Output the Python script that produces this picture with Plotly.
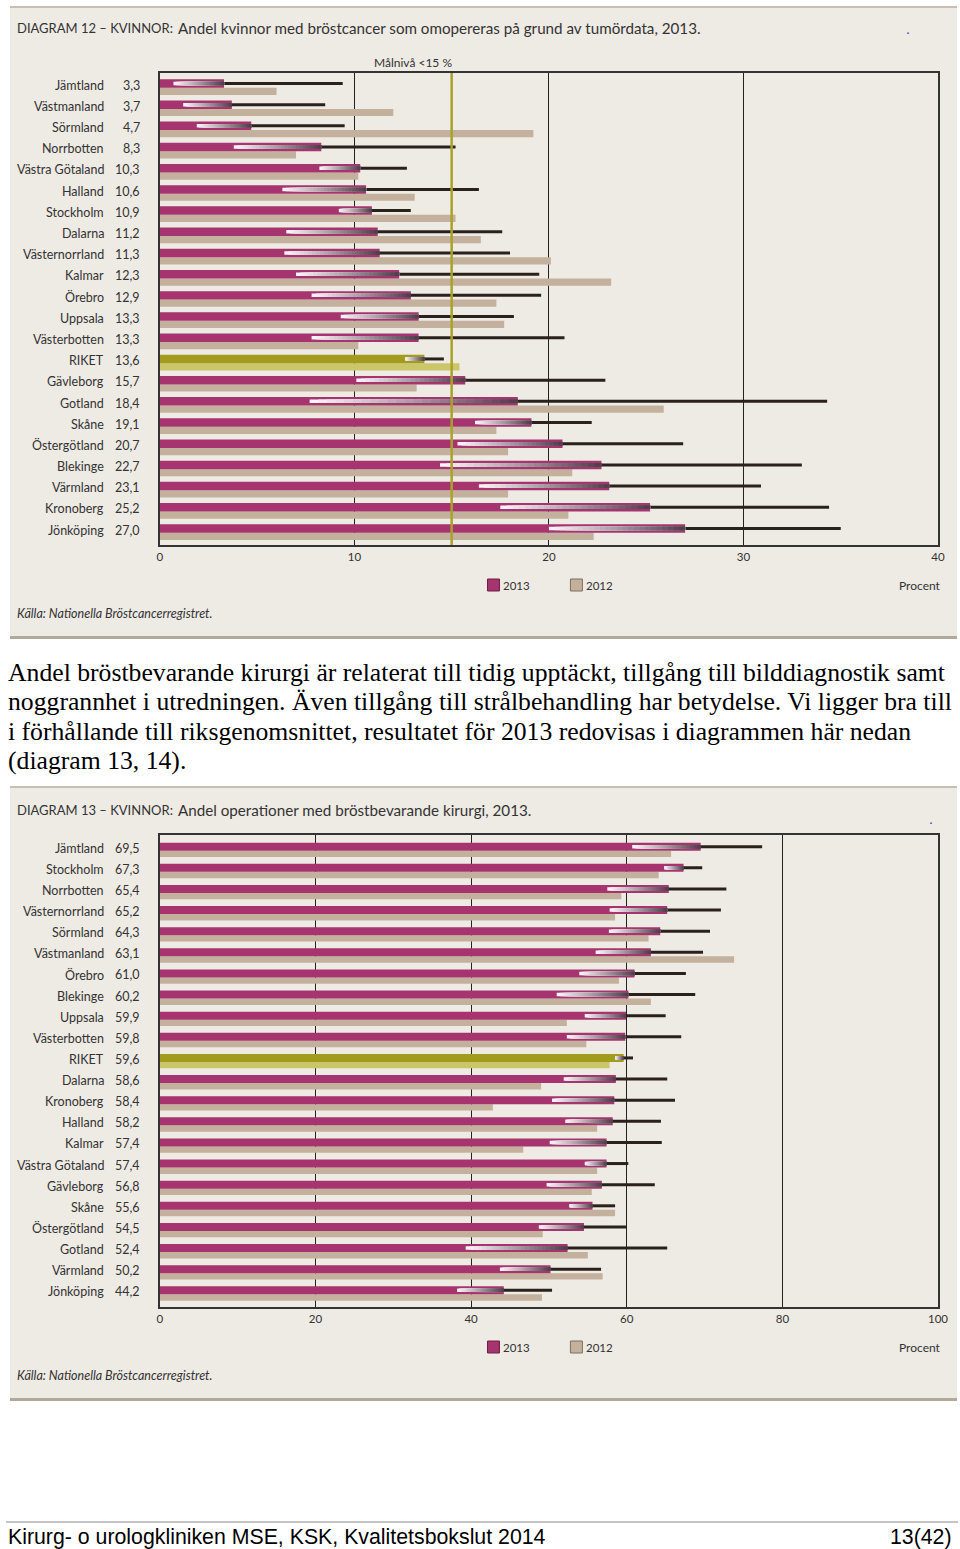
import plotly.graph_objects as go

W, H = 960, 1549
FIG_W = 972  # page is photographed slightly compressed horizontally; positions are paper fractions

# ---------------- Data: Diagram 12 ----------------
regions12 = ["Jämtland", "Västmanland", "Sörmland", "Norrbotten", "Västra Götaland", "Halland",
             "Stockholm", "Dalarna", "Västernorrland", "Kalmar", "Örebro", "Uppsala",
             "Västerbotten", "RIKET", "Gävleborg", "Gotland", "Skåne", "Östergötland",
             "Blekinge", "Värmland", "Kronoberg", "Jönköping"]
v2013_12 = [3.3, 3.7, 4.7, 8.3, 10.3, 10.6, 10.9, 11.2, 11.3, 12.3, 12.9, 13.3, 13.3, 13.6,
            15.7, 18.4, 19.1, 20.7, 22.7, 23.1, 25.2, 27.0]
v2012_12 = [6.0, 12.0, 19.2, 7.0, 10.2, 13.1, 15.2, 16.5, 20.1, 23.2, 17.3, 17.7, 10.2, 15.4,
            13.2, 25.9, 17.3, 17.9, 21.2, 17.9, 21.0, 22.3]
lo_12 = [0.7, 1.2, 1.9, 3.8, 8.2, 6.3, 9.2, 6.5, 6.4, 7.0, 7.8, 9.3, 7.8, 12.6,
         10.1, 7.7, 16.2, 15.3, 14.4, 16.4, 17.5, 20.0]
hi_12 = [9.4, 8.5, 9.5, 15.2, 12.7, 16.4, 12.9, 17.6, 18.0, 19.5, 19.6, 18.2, 20.8, 14.6,
         22.9, 34.3, 22.2, 26.9, 33.0, 30.9, 34.4, 35.0]
ticks12 = [0, 10, 20, 30, 40]
target12 = 15

# ---------------- Data: Diagram 13 ----------------
regions13 = ["Jämtland", "Stockholm", "Norrbotten", "Västernorrland", "Sörmland", "Västmanland",
             "Örebro", "Blekinge", "Uppsala", "Västerbotten", "RIKET", "Dalarna", "Kronoberg",
             "Halland", "Kalmar", "Västra Götaland", "Gävleborg", "Skåne", "Östergötland",
             "Gotland", "Värmland", "Jönköping"]
v2013_13 = [69.5, 67.3, 65.4, 65.2, 64.3, 63.1, 61.0, 60.2, 59.9, 59.8, 59.6, 58.6, 58.4,
            58.2, 57.4, 57.4, 56.8, 55.6, 54.5, 52.4, 50.2, 44.2]
v2012_13 = [65.7, 64.1, 59.3, 58.5, 62.8, 73.8, 59.0, 63.1, 52.3, 54.8, 57.8, 49.0, 42.8,
            56.2, 46.7, 56.2, 55.5, 58.5, 49.2, 55.0, 56.9, 49.1]
lo_13 = [60.7, 64.8, 57.5, 57.8, 57.7, 56.0, 53.9, 51.0, 54.6, 52.3, 58.5, 51.9, 50.4,
         52.1, 50.1, 54.6, 49.7, 52.6, 48.7, 39.3, 43.7, 38.2]
hi_13 = [77.4, 69.7, 72.8, 72.1, 70.7, 69.8, 67.6, 68.8, 65.0, 67.0, 60.8, 65.2, 66.2,
         64.4, 64.5, 60.2, 63.6, 58.5, 59.9, 65.2, 56.7, 50.4]
ticks13 = [0, 20, 40, 60, 80, 100]

# ---------------- Styles ----------------
MAG = "#a6346e"
TAN = "#c3b19d"
RIK13 = "#a29c1c"
RIK12 = "#cbc66a"
DARK = "#2a211c"
GRAD0 = (252, 244, 249)
GRAD1 = (84, 62, 76)
PANEL = "#eeeae4"
TXT = "#333333"
FONT = "Lato"


def px(x):
    return x / W


def py(y):
    return 1 - y / H


def mix(a, b, t):
    return "rgb(%d,%d,%d)" % tuple(round(a[i] + (b[i] - a[i]) * t) for i in range(3))


def fmt(v):
    return ("%.1f" % v).replace(".", ",")


fig = go.Figure()
annotations = []
shapes = []


def add_chart(regions, v13, v12, lo, hi, xa, ya, h13, h12):
    rows = list(range(len(regions)))
    y13 = [r - h13 / 2 for r in rows]
    y12 = [r + h12 / 2 for r in rows]
    c13 = [RIK13 if g == "RIKET" else MAG for g in regions]
    c12 = [RIK12 if g == "RIKET" else TAN for g in regions]
    fig.add_trace(go.Bar(x=v12, y=y12, width=h12, orientation="h", xaxis=xa, yaxis=ya,
                         marker=dict(color=c12, line_width=0), showlegend=False, hoverinfo="skip"))
    fig.add_trace(go.Bar(x=v13, y=y13, width=h13, orientation="h", xaxis=xa, yaxis=ya,
                         marker=dict(color=c13, line_width=0), showlegend=False, hoverinfo="skip"))
    # dark part (value -> upper bound)
    xs, ys = [], []
    for v, h, y in zip(v13, hi, y13):
        xs += [v, h, None]
        ys += [y, y, None]
    fig.add_trace(go.Scatter(x=xs, y=ys, mode="lines", xaxis=xa, yaxis=ya,
                             line=dict(color=DARK, width=3), showlegend=False, hoverinfo="skip"))
    # gradient part of the confidence interval (lower bound -> value), layered strips
    N = 24
    for k in range(N):
        xs, ys = [], []
        for l, v, y in zip(lo, v13, y13):
            a = l + (v - l) * k / N
            xs += [a, v, None]
            ys += [y, y, None]
        fig.add_trace(go.Scatter(x=xs, y=ys, mode="lines", xaxis=xa, yaxis=ya,
                                 line=dict(color=mix(GRAD0, GRAD1, k / (N - 1)), width=3.5),
                                 showlegend=False, hoverinfo="skip"))
    # row labels
    for r, g, v in zip(rows, regions, v13):
        annotations.append(dict(xref="paper", yref=ya, x=px(103), y=r - 0.12, text=g,
                                xanchor="right", yanchor="middle", showarrow=False,
                                font=dict(family=FONT, size=12.5, color=TXT)))
        annotations.append(dict(xref="paper", yref=ya, x=px(139), y=r - 0.12, text=fmt(v),
                                xanchor="right", yanchor="middle", showarrow=False,
                                font=dict(family=FONT, size=12.5, color=TXT)))


def panel(top, bottom, title_a, title_b, title_y, leg_y, src_y):
    shapes.append(dict(type="rect", xref="paper", yref="paper", x0=px(7), x1=px(955),
                       y0=py(bottom), y1=py(top), fillcolor=PANEL, line_width=0, layer="below"))
    shapes.append(dict(type="line", xref="paper", yref="paper", x0=px(7), x1=px(955),
                       y0=py(top), y1=py(top), line=dict(color="#c6bdb3", width=2)))
    shapes.append(dict(type="line", xref="paper", yref="paper", x0=px(7), x1=px(955),
                       y0=py(bottom - 1.5), y1=py(bottom - 1.5), line=dict(color="#b3a89c", width=3)))
    annotations.append(dict(xref="paper", yref="paper", x=px(12), y=py(title_y), text=title_a,
                            xanchor="left", yanchor="middle", showarrow=False,
                            font=dict(family=FONT, size=13, color=TXT)))
    annotations.append(dict(xref="paper", yref="paper", x=px(173), y=py(title_y), text=title_b,
                            xanchor="left", yanchor="middle", showarrow=False,
                            font=dict(family=FONT, size=15.2, color=TXT)))
    # legend
    for x0, col, edge, lab in [(485, MAG, "#6e1f47", "2013"), (568, TAN, "#7d6f60", "2012")]:
        shapes.append(dict(type="rect", xref="paper", yref="paper", x0=px(x0), x1=px(x0 + 12),
                           y0=py(leg_y + 6), y1=py(leg_y - 6), fillcolor=col,
                           line=dict(color=edge, width=1)))
        annotations.append(dict(xref="paper", yref="paper", x=px(x0 + 14), y=py(leg_y), text=lab,
                                xanchor="left", yanchor="middle", showarrow=False,
                                font=dict(family=FONT, size=11.5, color=TXT)))
    annotations.append(dict(xref="paper", yref="paper", x=px(941), y=py(leg_y), text="Procent",
                            xanchor="right", yanchor="middle", showarrow=False,
                            font=dict(family=FONT, size=12, color=TXT)))
    annotations.append(dict(xref="paper", yref="paper", x=px(12), y=py(src_y),
                            text="<i>Källa: Nationella Bröstcancerregistret.</i>",
                            xanchor="left", yanchor="middle", showarrow=False,
                            font=dict(family=FONT, size=12.5, color=TXT)))


add_chart(regions12, v2013_12, v2012_12, lo_12, hi_12, "x", "y", 0.40, 0.34)
add_chart(regions13, v2013_13, v2012_13, lo_13, hi_13, "x2", "y2", 0.38, 0.30)

panel(7, 639, "DIAGRAM 12 – KVINNOR:",
      "Andel kvinnor med bröstcancer som omopereras på grund av tumördata, 2013.", 28, 585, 613)
panel(787, 1401, "DIAGRAM 13 – KVINNOR:",
      "Andel operationer med bröstbevarande kirurgi, 2013.", 810, 1347, 1375)

# target line (Målnivå < 15 %)
shapes.append(dict(type="line", xref="x", yref="y domain", x0=target12, x1=target12, y0=0, y1=1,
                   line=dict(color="#a9a22a", width=2.5), layer="above"))
annotations.append(dict(xref="paper", yref="paper", x=px(451), y=py(62), text="Målnivå &lt;15 %",
                        xanchor="right", yanchor="middle", showarrow=False,
                        font=dict(family=FONT, size=12, color=TXT)))

# small blue marks
for bx, by in [(906, 33), (929, 823)]:
    annotations.append(dict(xref="paper", yref="paper", x=px(bx), y=py(by - 4), text=".",
                            xanchor="center", yanchor="middle", showarrow=False,
                            font=dict(family="Liberation Sans", size=14, color="#1f3fd0")))

# body text
body = ["Andel bröstbevarande kirurgi är relaterat till tidig upptäckt, tillgång till bilddiagnostik samt",
        "noggrannhet i utredningen. Även tillgång till strålbehandling har betydelse. Vi ligger bra till",
        "i förhållande till riksgenomsnittet, resultatet för 2013 redovisas i diagrammen här nedan",
        "(diagram 13, 14)."]
for i, line in enumerate(body):
    annotations.append(dict(xref="paper", yref="paper", x=px(3), y=py(672 + 29.5 * i), text=line,
                            xanchor="left", yanchor="middle", showarrow=False,
                            font=dict(family="Liberation Serif", size=25.7, color="#000000")))

# footer
shapes.append(dict(type="line", xref="paper", yref="paper", x0=px(3), x1=px(956),
                   y0=py(1522), y1=py(1522), line=dict(color="#8a8a8a", width=1)))
annotations.append(dict(xref="paper", yref="paper", x=px(3), y=py(1537),
                        text="Kirurg- o urologkliniken MSE, KSK, Kvalitetsbokslut 2014",
                        xanchor="left", yanchor="middle", showarrow=False,
                        font=dict(family="Liberation Sans", size=21.3, color="#000000")))
annotations.append(dict(xref="paper", yref="paper", x=px(952), y=py(1537), text="13(42)",
                        xanchor="right", yanchor="middle", showarrow=False,
                        font=dict(family="Liberation Sans", size=21.3, color="#000000")))

axis_common = dict(showgrid=True, gridcolor="#222222", gridwidth=1.4, zeroline=False,
                   showline=True, mirror=True, linecolor="#333333", linewidth=1.5,
                   ticks="", tickfont=dict(family=FONT, size=11.5, color=TXT), fixedrange=True)
yaxis_common = dict(showgrid=False, zeroline=False, showticklabels=False, showline=True,
                    mirror=True, linecolor="#333333", linewidth=1.5, ticks="", fixedrange=True)

fig.update_layout(
    width=FIG_W, height=H, margin=dict(l=0, r=0, t=0, b=0),
    paper_bgcolor="white", plot_bgcolor="white", barmode="overlay", showlegend=False,
    xaxis=dict(domain=[px(157), px(936)], range=[0, 40], tickvals=ticks12, anchor="y", **axis_common),
    yaxis=dict(domain=[py(545), py(73)], range=[21.58, -0.694], anchor="x", **yaxis_common),
    xaxis2=dict(domain=[px(157), px(936)], range=[0, 100], tickvals=ticks13, anchor="y2", **axis_common),
    yaxis2=dict(domain=[py(1307), py(835)], range=[21.6, -0.743], anchor="x2", **yaxis_common),
    shapes=shapes, annotations=annotations,
)

post = ("document.documentElement.style.overflow='hidden';"
        "document.body.style.margin='0px';document.body.style.overflow='hidden';")

fig.write_html("out.html", config={"displayModeBar": False}, post_script=post)
